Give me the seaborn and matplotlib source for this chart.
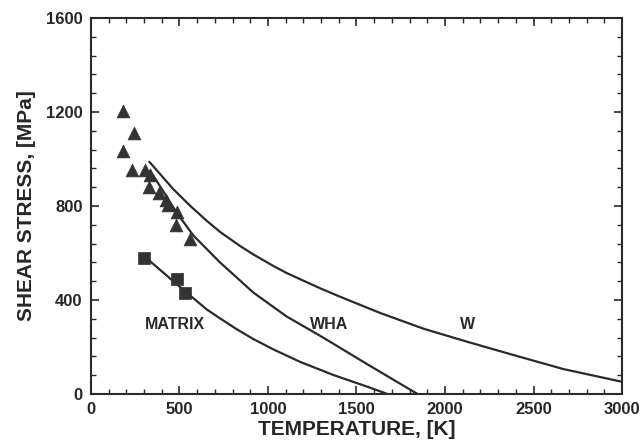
import matplotlib
matplotlib.use("Agg")
import matplotlib.pyplot as plt
import seaborn as sns
import pandas as pd
from matplotlib.ticker import MultipleLocator

# WHA data (triangles)
wha_T = [182, 243, 183, 230, 305, 333, 330, 384, 424, 437, 484, 480, 559]
wha_tau = [1205, 1110, 1035, 955, 955, 930, 880, 855, 825, 805, 775, 720, 660]

# matrix data (squares)
mat_T = [299, 484, 531]
mat_tau = [580, 490, 430]

# model curves
w_curve_T = [330, 465, 559, 654, 729, 842, 917, 1030, 1105, 1294, 1407,
             1633, 1878, 2122, 2386, 2669, 3000]
w_curve_tau = [988, 872, 802, 737, 690, 630, 594, 545, 515, 450, 414,
               345, 278, 223, 166, 106, 52]

wha_curve_T = [335, 484, 578, 729, 917, 1105, 1294, 1369, 1558, 1746, 1845]
wha_curve_tau = [950, 772, 675, 560, 432, 330, 248, 214, 128, 44, 0]

mat_curve_T = [305, 465, 531, 654, 729, 823, 917, 1030, 1181, 1369, 1558, 1675]
mat_curve_tau = [584, 480, 438, 360, 322, 276, 234, 190, 137, 81, 32, 0]

curve_labels = ["MATRIX", "WHA", "W"]
label_T = [475, 1345, 2130]
label_tau = [294, 294, 294]

sns.set_style("ticks")
plt.rcParams['font.family'] = ['Liberation Sans', 'DejaVu Sans']
plt.rcParams['font.weight'] = 'bold'

fig = plt.figure(figsize=(6.4, 4.44), dpi=100)
ax = fig.add_axes([0.142, 0.1126, 0.830, 0.847])

ink = "#2a2a2a"
for T, tau in [(w_curve_T, w_curve_tau), (wha_curve_T, wha_curve_tau), (mat_curve_T, mat_curve_tau)]:
    df = pd.DataFrame({"T": T, "tau": tau})
    sns.lineplot(data=df, x="T", y="tau", sort=False, color=ink, lw=1.6, ax=ax)

sns.scatterplot(x=wha_T, y=wha_tau, marker="^", s=85, color="#333333",
                edgecolor="#333333", linewidth=0.5, ax=ax, zorder=3)
sns.scatterplot(x=mat_T, y=mat_tau, marker="s", s=70, color="#333333",
                edgecolor="#333333", linewidth=0.5, ax=ax, zorder=3)

for lab, x, y in zip(curve_labels, label_T, label_tau):
    ax.text(x, y, lab, ha="center", va="center", fontsize=11.5, fontweight="bold", color=ink)

ax.set_xlim(0, 3000)
ax.set_ylim(0, 1600)
ax.xaxis.set_major_locator(MultipleLocator(500))
ax.xaxis.set_minor_locator(MultipleLocator(100))
ax.yaxis.set_major_locator(MultipleLocator(400))
ax.yaxis.set_minor_locator(MultipleLocator(80))
ax.tick_params(which="both", direction="in", top=True, right=True, color=ink)
ax.tick_params(which="major", length=6, width=1.2, labelsize=12, pad=6)
ax.tick_params(which="minor", length=3.5, width=1.0)
for lbl in ax.get_xticklabels() + ax.get_yticklabels():
    lbl.set_fontweight("bold")
for sp in ax.spines.values():
    sp.set_visible(True)
    sp.set_linewidth(1.5)
    sp.set_color(ink)

ax.set_xlabel("TEMPERATURE, [K]", fontsize=15, fontweight="bold", labelpad=2)
ax.set_ylabel("SHEAR STRESS, [MPa]", fontsize=15, fontweight="bold", labelpad=7)

fig.savefig("out.png", dpi=100)
